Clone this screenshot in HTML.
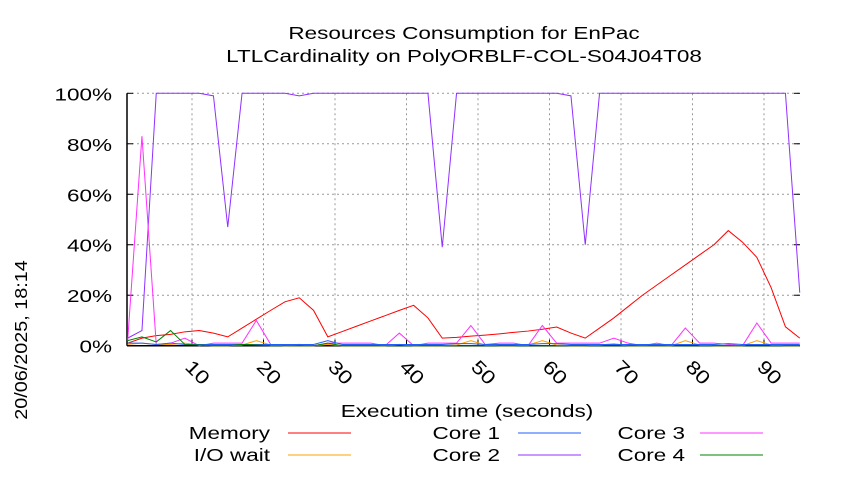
<!DOCTYPE html>
<html><head><meta charset="utf-8"><style>
body{margin:0;background:#fff}
svg{font-family:"Liberation Sans",sans-serif}
</style></head><body>
<svg id="c" width="850" height="475" viewBox="0 0 850 475" xmlns="http://www.w3.org/2000/svg">
<text transform="translate(464,39) scale(1.25,1)" font-size="18" text-anchor="middle">Resources Consumption for EnPac</text>
<text transform="translate(464,62) scale(1.25,1)" font-size="18" text-anchor="middle">LTLCardinality on PolyORBLF-COL-S04J04T08</text>
<text transform="translate(27,340) rotate(-90) scale(1.1,1)" font-size="18" text-anchor="middle">20/06/2025, 18:14</text>
<text transform="translate(467,417) scale(1.25,1)" font-size="18" text-anchor="middle">Execution time (seconds)</text>
<g id="grid"></g><g id="axes"></g><g id="series"></g><g id="legend"></g>
</svg>
<script>
const xs=[1,3,5,7,9,11,13,15,17,19,21,23,25,27,29,31,33,35,37,39,41,43,45,47,49,51,53,55,57,59,61,63,65,67,69,71,73,75,77,79,81,83,85,87,89,91,93,95];
const memory=[1,3,4,4.5,5.5,6,5,3.5,7,10.5,14,17.4,19,14,3.5,5.6,7.7,9.8,11.9,14,16,11,3,3.3,3.8,4.2,4.7,5.3,5.8,6.5,7.4,5,3,7,11,15.5,20,24,28,32,36,40,45.6,41,35,23,7.5,3];
const ioWait=[0.5,1,0.5,0.5,1,0.3,0,0,0.3,2,0.3,0,0,0,0.5,0,0,0,0,0.5,0,0,0,0.3,2,0.3,0,0,0.3,2,0.3,0,0,0.3,0.8,0,0,0,0,2,0.3,0,0,0,2,0.3,0,0];
const core1=[1,1,0.5,1,0.5,0.5,0.5,0.5,0.5,0.5,0.5,0.5,0.5,0.5,2,0.5,0.5,0.5,0.5,0.5,0.5,0.5,0.5,0.8,0.8,0.5,0.5,0.5,0.5,0.8,0.8,0.5,0.5,0.5,0.5,0.5,0.5,0.5,0.5,0.5,0.5,0.5,0.8,0.5,0.5,0.5,0.5,0.5];
const core2=[3,6,100,100,100,100,99,47,100,100,100,100,99,100,100,100,100,100,100,100,100,100,39,100,100,100,100,100,100,100,100,99,40,100,100,100,100,100,100,100,100,100,100,100,100,100,100,21];
const core3=[2,83,0.5,1,3,0,1,1,1,10,0.5,0,0.5,0,1,1,1,1,0,5,0,1,1,1,8,0.5,1,1,0,8,1,1,1,1,3,1,0,1,0,7,1,1,0.5,0,9,1,1,1];
const core4=[2,3.5,1.5,6,0.5,0.3,0,0,0.5,0.3,0,0,0,0,1,0,0,0,0,0,0,0,0,0,0,0,0,0,0,0,0,0,0,0,0,0,0,0,0,0,0,0,0,0,0,0,0,0];
const yTicks=[0,20,40,60,80,100];
const xTicks=[10,20,30,40,50,60,70,80,90];
const names=["Memory","I/O wait","Core 1","Core 2","Core 3","Core 4"];
const NS="http://www.w3.org/2000/svg";
const X=v=>120.5+7.15*v, Y=v=>345.7-2.524*v;
const L=127,R=800;
function mk(t,a,p){const e=document.createElementNS(NS,t);for(const k in a)e.setAttribute(k,a[k]);p.appendChild(e);return e;}
const g=document.getElementById('grid'),ax=document.getElementById('axes'),s=document.getElementById('series'),lg=document.getElementById('legend');
yTicks.forEach(v=>{
 if(v>0){const l=mk('line',{x1:L,x2:R,y1:Y(v),y2:Y(v),stroke:'#999','stroke-dasharray':'2,3'},g);
 
 }
 const t=mk('text',{transform:`translate(112,${Y(v)+7}) scale(1.25,1)`,'font-size':18,'text-anchor':'end'},ax);t.textContent=v+'%';
 
 
 mk('line',{x1:L,x2:L+6,y1:Y(v),y2:Y(v),stroke:'#000'},ax);
 mk('line',{x1:R-6,x2:R,y1:Y(v),y2:Y(v),stroke:'#000'},ax);
});
xTicks.forEach(v=>{
 const l=mk('line',{x1:X(v),x2:X(v),y1:Y(100),y2:Y(0),stroke:'#999','stroke-dasharray':'2,3'},g);
 
 
 mk('line',{x1:X(v),x2:X(v),y1:Y(0),y2:Y(0)-6,stroke:'#000'},ax);
 const t=mk('text',{transform:`translate(${X(v)-8},${368}) rotate(45) scale(1.2,1)`,'font-size':19},ax);t.textContent=v;
 
 
});
mk('line',{x1:L,x2:L,y1:Y(100),y2:Y(0),stroke:'#000','stroke-width':1.5},ax);
mk('line',{x1:L,x2:R,y1:Y(0),y2:Y(0),stroke:'#000','stroke-width':1.5},ax);
const data=[memory,ioWait,core1,core2,core3,core4];
const cols=['#ff0000','#ffa000','#2060ff','#9030ff','#ff30ff','#008000'];
const order=[3,0,4,1,2,5];
order.forEach(i=>{
 const p=mk('polyline',{points:xs.map((x,k)=>X(x)+','+Y(data[i][k])).join(' '),fill:'none',stroke:cols[i],'stroke-width':1},s);
 
 
});
const pos=[[270,288,433],[270,288,455],[500,518,433],[500,518,455],[685,700,433],[685,700,455]];
[0,1,2,3,4,5].forEach(i=>{
 const gg=mk('g',{},lg);
 
 
 const t=mk('text',{transform:`translate(${pos[i][0]},${pos[i][2]+6}) scale(1.25,1)`,'font-size':18,'text-anchor':'end'},gg);t.textContent=names[i];
 mk('line',{x1:pos[i][1],x2:pos[i][1]+63,y1:pos[i][2],y2:pos[i][2],stroke:cols[i]},gg);
});
</script>
</body></html>
